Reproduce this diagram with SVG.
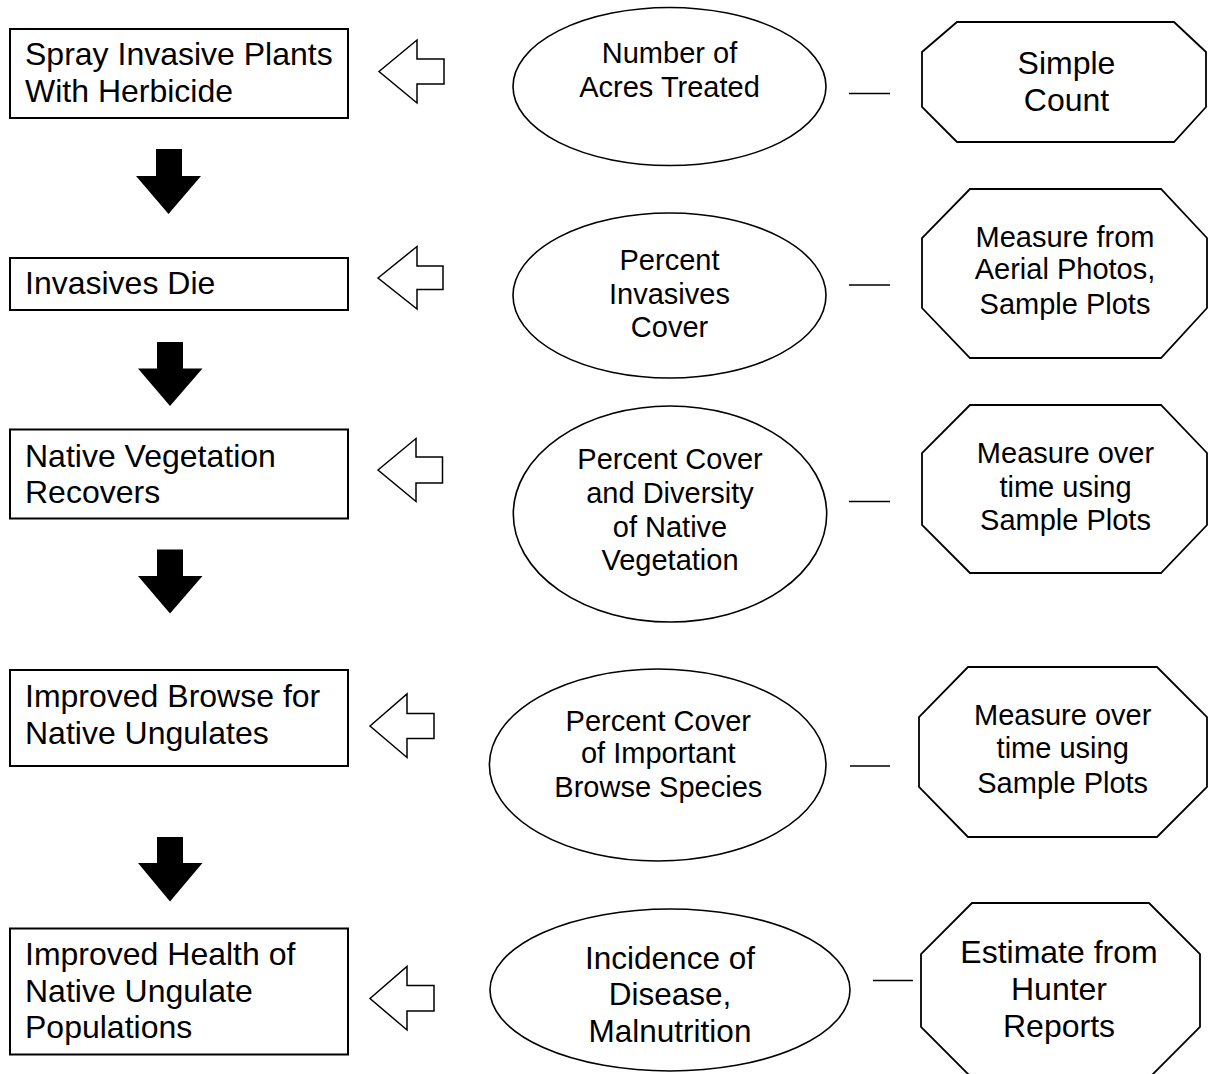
<svg xmlns="http://www.w3.org/2000/svg" width="1210" height="1074" viewBox="0 0 1210 1074">
<style>
.box{fill:#fff;stroke:#000;stroke-width:2}
.ell{fill:#fff;stroke:#000;stroke-width:1.6}
.oct{fill:#fff;stroke:#000;stroke-width:1.8}
.hol{fill:#fff;stroke:#000;stroke-width:1.5;stroke-linejoin:miter}
.blk{fill:#000;stroke:none}
.dash{stroke:#000;stroke-width:1.6;fill:none}
text{font-family:"Liberation Sans",Arial,sans-serif;fill:#000}
.lt{font-size:32px}
.et{font-size:29px;text-anchor:middle}
.ot{font-size:29px;text-anchor:middle}
.ob{font-size:32px;text-anchor:middle}
</style>
<rect width="1210" height="1074" fill="#fff"/>

<g id="connectors">
  <polygon class="hol" points="379,71.5 417,40 417,59 444,59 444,84 417,84 417,103"/>
  <polygon class="hol" points="378,278 417,246.5 417,266 443,266 443,289.5 417,289.5 417,309"/>
  <polygon class="hol" points="378,470 416,438.5 416,457 442.5,457 442.5,483 416,483 416,501.5"/>
  <polygon class="hol" points="370,726 407,694 407,713.5 434,713.5 434,738.5 407,738.5 407,757.5"/>
  <polygon class="hol" points="370,998.5 407,966.5 407,985.5 434,985.5 434,1011 407,1011 407,1030"/>

  <polygon class="blk" points="156,149 182,149 182,176 201,176 168.5,214 136,176 156,176"/>
  <polygon class="blk" points="157,342 183,342 183,368.5 202.5,368.5 170,406 138,368.5 157,368.5"/>
  <polygon class="blk" points="157,549.5 183,549.5 183,576 202.5,576 170,613.5 138,576 157,576"/>
  <polygon class="blk" points="157,837 183,837 183,863 202.5,863 170,901.5 138,863 157,863"/>

  <line class="dash" x1="849" y1="93.5" x2="890" y2="93.5"/>
  <line class="dash" x1="849" y1="285" x2="890" y2="285"/>
  <line class="dash" x1="849" y1="501.5" x2="890" y2="501.5"/>
  <line class="dash" x1="850" y1="766" x2="890" y2="766"/>
  <line class="dash" x1="873" y1="980.5" x2="913" y2="980.5"/>
</g>

<g id="box1">
  <rect class="box" x="10" y="29" width="338" height="89"/>
  <text class="lt" x="25" y="65">Spray Invasive Plants</text>
  <text class="lt" x="25" y="101.7">With Herbicide</text>
</g>
<g id="box2">
  <rect class="box" x="10" y="258" width="338" height="52"/>
  <text class="lt" x="25" y="294">Invasives Die</text>
</g>
<g id="box3">
  <rect class="box" x="10" y="429.5" width="338" height="89"/>
  <text class="lt" x="25" y="466.7">Native Vegetation</text>
  <text class="lt" x="25" y="503.3">Recovers</text>
</g>
<g id="box4">
  <rect class="box" x="10" y="670" width="338" height="96"/>
  <text class="lt" x="25" y="706.7">Improved Browse for</text>
  <text class="lt" x="25" y="744">Native Ungulates</text>
</g>
<g id="box5">
  <rect class="box" x="10" y="928.5" width="338" height="126"/>
  <text class="lt" x="25" y="965">Improved Health of</text>
  <text class="lt" x="25" y="1001.7">Native Ungulate</text>
  <text class="lt" x="25" y="1038.3">Populations</text>
</g>

<g id="ind1">
  <ellipse class="ell" cx="669.5" cy="86.5" rx="156.5" ry="79"/>
  <text class="et" x="669.5" y="63.3">Number of</text>
  <text class="et" x="669.5" y="96.7">Acres Treated</text>
</g>
<g id="ind2">
  <ellipse class="ell" cx="669.5" cy="295.5" rx="156.5" ry="82.5"/>
  <text class="et" x="669.5" y="270">Percent</text>
  <text class="et" x="669.5" y="304">Invasives</text>
  <text class="et" x="669.5" y="337.3">Cover</text>
</g>
<g id="ind3">
  <ellipse class="ell" cx="670" cy="514" rx="156.7" ry="108"/>
  <text class="et" x="670" y="469.3">Percent Cover</text>
  <text class="et" x="670" y="503.3">and Diversity</text>
  <text class="et" x="670" y="536.7">of Native</text>
  <text class="et" x="670" y="570">Vegetation</text>
</g>
<g id="ind4">
  <ellipse class="ell" cx="657.7" cy="765" rx="168.3" ry="96"/>
  <text class="et" x="658.3" y="730.7">Percent Cover</text>
  <text class="et" x="658.3" y="763.3">of Important</text>
  <text class="et" x="658.3" y="797.3">Browse Species</text>
</g>
<g id="ind5">
  <ellipse class="ell" cx="670" cy="990" rx="180" ry="81"/>
  <text class="et" x="670" y="969.3" style="font-size:31.5px">Incidence of</text>
  <text class="et" x="670" y="1005" style="font-size:31.5px">Disease,</text>
  <text class="et" x="670" y="1041.7" style="font-size:31.5px">Malnutrition</text>
</g>

<g id="method1">
  <polygon class="oct" points="957,22 1174,22 1206,52 1206,107 1174,142 957,142 922,107 922,52"/>
  <text class="ob" x="1066.5" y="74">Simple</text>
  <text class="ob" x="1066.5" y="110.7">Count</text>
</g>
<g id="method2">
  <polygon class="oct" points="970,189 1161,189 1207,238 1207,308 1161,358 970,358 922,308 922,238"/>
  <text class="ot" x="1065" y="246.7">Measure from</text>
  <text class="ot" x="1065" y="279.3">Aerial Photos,</text>
  <text class="ot" x="1065" y="314">Sample Plots</text>
</g>
<g id="method3">
  <polygon class="oct" points="970,405 1161,405 1207,453 1207,525 1161,573 970,573 922,525 922,453"/>
  <text class="ot" x="1065.5" y="462.7">Measure over</text>
  <text class="ot" x="1065.5" y="496.7">time using</text>
  <text class="ot" x="1065.5" y="530">Sample Plots</text>
</g>
<g id="method4">
  <polygon class="oct" points="968,667 1157,667 1207,717 1207,787 1157,837 968,837 919,787 919,717"/>
  <text class="ot" x="1062.7" y="725">Measure over</text>
  <text class="ot" x="1062.7" y="758.3">time using</text>
  <text class="ot" x="1062.7" y="793.3">Sample Plots</text>
</g>
<g id="method5">
  <polygon class="oct" points="972,903 1149,903 1200,954 1200,1027 1149,1078 972,1078 921,1027 921,954"/>
  <text class="ob" x="1059" y="963.3">Estimate from</text>
  <text class="ob" x="1059" y="1000">Hunter</text>
  <text class="ob" x="1059" y="1036.7">Reports</text>
</g>
</svg>
